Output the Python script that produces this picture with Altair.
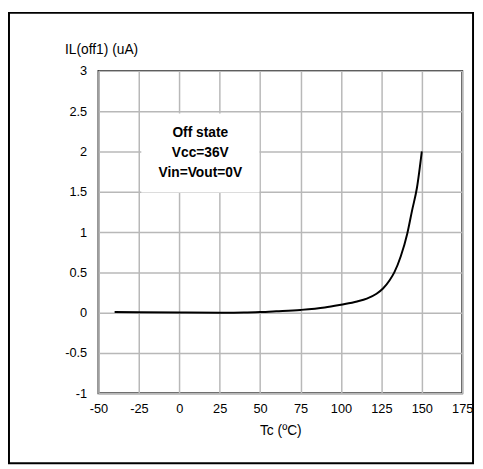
import altair as alt
import pandas as pd

# Data
temps = [-40, -25, 0, 25, 40, 50, 60, 75, 90, 100, 110, 116, 122, 126, 130, 133, 137, 141, 144, 147, 150]
leak = [0.01, 0.007, 0.003, 0.0, 0.002, 0.008, 0.018, 0.035, 0.065, 0.1, 0.14, 0.175, 0.235, 0.3, 0.4, 0.5, 0.7, 0.98, 1.27, 1.55, 2.0]
x_ticks = [-50, -25, 0, 25, 50, 75, 100, 125, 150, 175]
y_ticks = [-1, -0.5, 0, 0.5, 1, 1.5, 2, 2.5, 3]
note_lines = ["Off state", "Vcc=36V", "Vin=Vout=0V"]
y_title = "IL(off1) (uA)"
x_title = "Tc (ºC)"

FONT = "Liberation Sans"

df = pd.DataFrame({"T": temps, "I": leak})
one = pd.DataFrame({"k": [0]})

xs = alt.Scale(domain=[-50, 175], nice=False, zero=False)
ys = alt.Scale(domain=[-1, 3], nice=False, zero=False)

xaxis = alt.Axis(values=x_ticks, grid=True, gridColor="#b8b8b8", gridWidth=1.5,
                 domain=False, ticks=False, labelFont=FONT, labelFontSize=13,
                 labelColor="#000000", labelPadding=9, labelFlush=False,
                 labelExpr="datum.value + ''",
                 title=x_title, titleFont=FONT, titleFontSize=14,
                 titleFontWeight="normal", titleColor="#000000", titlePadding=9)
yaxis = alt.Axis(values=y_ticks, grid=True, gridColor="#b8b8b8", gridWidth=1.5,
                 domain=False, ticks=False, labelFont=FONT, labelFontSize=13,
                 labelColor="#000000", labelPadding=12, labelFlush=False,
                 labelExpr="datum.value + ''", title=None)

line = alt.Chart(df).mark_line(color="#000000", strokeWidth=2, interpolate="monotone").encode(
    x=alt.X("T:Q", scale=xs, axis=xaxis),
    y=alt.Y("I:Q", scale=ys, axis=yaxis),
)

box = alt.Chart(one).mark_rect(fill="#ffffff").encode(
    x=alt.datum(-23.5), x2=alt.datum(49.5),
    y=alt.datum(2.47), y2=alt.datum(1.49),
)

note = alt.Chart(one).mark_text(
    text=note_lines, font=FONT, fontSize=14, fontWeight="bold", color="#000000",
    lineHeight=20.5, align="center", baseline="middle"
).encode(x=alt.datum(13), y=alt.datum(2.228))

ytitle = alt.Chart(one).mark_text(
    text=y_title, font=FONT, fontSize=14, color="#000000",
    align="left", baseline="middle", clip=False
).encode(x=alt.value(-34), y=alt.value(-21))

border = alt.Chart(one).mark_rect(filled=False, stroke="#000000", strokeWidth=2, clip=False).encode(
    x=alt.value(-91), x2=alt.value(381), y=alt.value(-59), y2=alt.value(399)
)

chart = alt.layer(box, line, note, ytitle, border).properties(
    width=370, height=328,
    autosize=alt.AutoSizeParams(type="none"),
    padding={"left": 92, "top": 60, "right": 13, "bottom": 73},
    background="#ffffff",
).configure_view(stroke="#404040", strokeWidth=2)

chart.save("out.html", embed_options={"renderer": "svg", "actions": False})
